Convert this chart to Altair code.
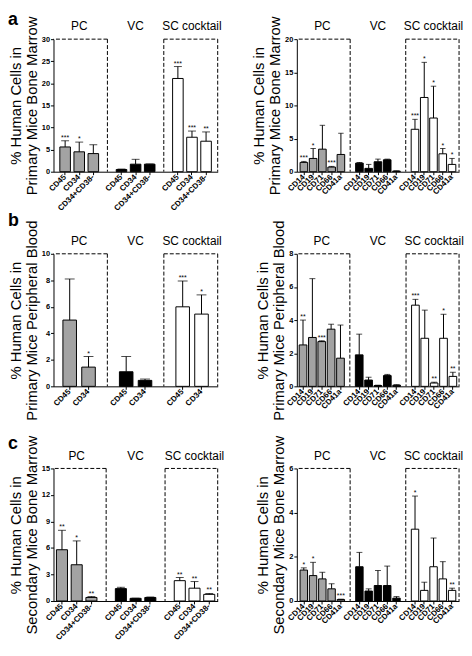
import altair as alt
import pandas as pd

GROUPS = ["PC", "VC", "SC cocktail"]
COLORS = ["#a3a3a3", "#000000", "#ffffff"]
STEM = ["CD45", "CD34", "CD34+CD38-"]
STEM_PB = ["CD45", "CD34"]
LINEAGE = ["CD14", "CD19", "CD71", "CD66", "CD41a"]

# panel a, left (primary BM, stem markers)
a_l_mean = [5.6, 4.5, 4.1, 0.5, 1.7, 1.7, 21.1, 7.8, 6.9]
a_l_err = [1.4, 2.2, 2.0, 0.1, 1.1, 0.05, 2.7, 1.4, 2.1]
a_l_sig = ["***", "*", "", "", "", "", "***", "***", "**"]
# panel a, right (primary BM, lineage markers)
a_r_mean = [1.4, 2.0, 3.4, 0.7, 2.6, 1.3, 0.5, 1.5, 1.8, 0.1, 6.4, 11.2, 8.1, 2.7, 1.1]
a_r_err = [0.15, 1.5, 3.6, 0.1, 3.2, 0.1, 0.6, 0.4, 0.1, 0.02, 1.5, 5.3, 4.8, 0.8, 0.9]
a_r_sig = ["***", "*", "", "***", "", "", "", "", "", "", "***", "*", "*", "*", "*"]
# panel b, left (primary PB, stem markers)
b_l_mean = [5.0, 1.45, 1.1, 0.45, 6.0, 5.45]
b_l_err = [3.1, 0.8, 1.15, 0.1, 1.95, 1.45]
b_l_sig = ["", "*", "", "", "***", "*"]
# panel b, right (primary PB, lineage markers)
b_r_mean = [2.5, 2.95, 2.7, 3.45, 1.7, 1.9, 0.38, 0.05, 0.65, 0.07, 4.9, 2.9, 0.2, 2.9, 0.6]
b_r_err = [1.5, 3.55, 0.05, 0.3, 2.0, 1.25, 0.17, 0.02, 0.07, 0.03, 0.35, 1.7, 0.05, 1.45, 0.25]
b_r_sig = ["**", "", "***", "", "", "", "", "", "", "", "***", "", "**", "*", "**"]
# panel c, left (secondary BM, stem markers)
c_l_mean = [5.8, 4.1, 0.4, 1.4, 0.3, 0.4, 2.3, 1.45, 0.75]
c_l_err = [2.2, 2.7, 0.1, 0.15, 0.02, 0.05, 0.35, 0.75, 0.1]
c_l_sig = ["**", "*", "**", "", "", "", "**", "**", "**"]
# panel c, right (secondary BM, lineage markers)
c_r_mean = [1.4, 1.15, 1.0, 0.55, 0.07, 1.55, 0.45, 0.7, 0.7, 0.13, 3.25, 0.48, 1.55, 1.0, 0.48]
c_r_err = [0.1, 0.6, 0.3, 0.23, 0.01, 0.65, 0.1, 0.68, 0.88, 0.07, 1.5, 0.37, 1.3, 0.78, 0.1]
c_r_sig = ["*", "*", "", "", "***", "", "", "", "", "", "*", "", "", "", "**"]

TITLE_A = ["% Human Cells in", "Primary Mice Bone Marrow"]
TITLE_B = ["% Human Cells in", "Primary Mice Peripheral Blood"]
TITLE_C = ["% Human Cells in", "Secondary Mice Bone Marrow"]

LABEL_FONT = "Liberation Sans, Arial, sans-serif"
DASH = [4, 2]


def panel(markers, means, errs, sigs, ymax, ystep, W, H, title, pi, po, cap,
          letter=None, letter_y=-14):
    rows = []
    domain = []
    i = 0
    for gi, g in enumerate(GROUPS):
        if gi > 0:
            domain.append(f"gap{gi}")
        for m in markers:
            key = f"{g}|{m}"
            domain.append(key)
            rows.append(dict(group=g, marker=m, key=key, mean=means[i],
                             hi=means[i] + errs[i], sig=sigs[i]))
            i += 1
    df = pd.DataFrame(rows)
    bar_keys = [k for k in domain if "|" in k]
    step = W / (len(domain) - pi + 2 * po)

    xscale = alt.Scale(domain=domain, paddingInner=pi, paddingOuter=po)
    xaxis = alt.Axis(values=bar_keys, labelExpr="split(datum.value, '|')[1]",
                     labelAngle=315, labelAlign="right", labelBaseline="middle",
                     labelFont=LABEL_FONT, labelFontSize=8, labelFontWeight="bold",
                     labelColor="black", labelPadding=1, labelOverlap=False,
                     tickSize=3, tickColor="black", domainColor="black", domainWidth=1,
                     title=None, grid=False)
    X = alt.X("key:N", scale=xscale, axis=xaxis)
    yscale = alt.Scale(domain=[0, ymax], nice=False)
    yaxis = alt.Axis(values=list(range(0, ymax + 1, ystep)), title=title, grid=False,
                     domainColor="black", domainWidth=1, tickColor="black", tickSize=3,
                     labelColor="black", labelFont=LABEL_FONT, labelFontSize=7.5,
                     labelFontWeight="bold", labelPadding=1,
                     titleFont=LABEL_FONT, titleFontSize=15, titleFontWeight="normal",
                     titleColor="black", titlePadding=2, titleLineHeight=16)
    Ymean = alt.Y("mean:Q", scale=yscale, axis=yaxis)
    Yhi = alt.Y("hi:Q", scale=yscale, axis=yaxis)

    base = alt.Chart(df)
    bars = base.mark_bar(stroke="black", strokeWidth=1).encode(
        x=X, y=Ymean,
        fill=alt.Fill("group:N", scale=alt.Scale(domain=GROUPS, range=COLORS), legend=None))
    err = base.mark_rule(color="black", strokeWidth=1).encode(x=X, y=Ymean, y2="hi:Q")
    caps = base.mark_tick(color="black", thickness=1, size=cap).encode(x=X, y=Yhi)
    stars = base.mark_text(fontSize=7, baseline="alphabetic", dy=-1, color="black",
                           font=LABEL_FONT).encode(x=X, y=Yhi, text="sig:N")

    # group headers centred over each group's bars
    n = len(markers)
    if n % 2 == 1:
        centre_idx, bpos, off = n // 2, 0.5, 0.0
    else:
        centre_idx, bpos, off = n // 2 - 1, 1.0, step * pi / 2
    gdf = pd.DataFrame({"group": GROUPS, "key": [f"{g}|{markers[centre_idx]}" for g in GROUPS]})
    grp = alt.Chart(gdf).mark_text(fontSize=12, font=LABEL_FONT, baseline="alphabetic",
                                   color="black", xOffset=off).encode(
        x=alt.X("key:N", scale=xscale, axis=xaxis, bandPosition=bpos),
        y=alt.value(-9), text="group:N")

    # dashed boxes around PC and SC cocktail, split at the gap slots
    sepdf = pd.DataFrame({"key": ["gap1", "gap2"]})
    rule_kw = dict(strokeDash=DASH, color="black", strokeWidth=1)
    vlines = alt.Chart(sepdf).mark_rule(**rule_kw).encode(x=X, y=alt.value(0), y2=alt.value(H))
    top_pc = alt.Chart(sepdf).transform_filter("datum.key == 'gap1'").mark_rule(**rule_kw).encode(
        x=X, x2=alt.value(0), y=alt.value(0))
    top_sc = alt.Chart(sepdf).transform_filter("datum.key == 'gap2'").mark_rule(**rule_kw).encode(
        x=X, x2=alt.value(W), y=alt.value(0))
    right = alt.Chart(sepdf).transform_filter("datum.key == 'gap2'").mark_rule(**rule_kw).encode(
        x=alt.value(W), y=alt.value(0), y2=alt.value(H))

    layers = [vlines, top_pc, top_sc, right, bars, err, caps, stars, grp]
    if letter:
        ldf = pd.DataFrame({"t": [letter]})
        layers.append(alt.Chart(ldf).mark_text(fontSize=18, fontWeight="bold", align="left",
                                               baseline="alphabetic", font=LABEL_FONT,
                                               color="black").encode(
            x=alt.value(-46), y=alt.value(letter_y), text="t:N"))
    return alt.layer(*layers).properties(width=W, height=H)


H = 134
a_l = panel(STEM, a_l_mean, a_l_err, a_l_sig, 30, 5, 166, H, TITLE_A, 0.25, 0.45, 8, "a", -14)
a_r = panel(LINEAGE, a_r_mean, a_r_err, a_r_sig, 20, 5, 164, H, TITLE_A, 0.18, 0.35, 5.5)
b_l = panel(STEM_PB, b_l_mean, b_l_err, b_l_sig, 10, 2, 166, H, TITLE_B, 0.28, 0.5, 10, "b", -28)
b_r = panel(LINEAGE, b_r_mean, b_r_err, b_r_sig, 8, 2, 164, H, TITLE_B, 0.18, 0.25, 6)
c_l = panel(STEM, c_l_mean, c_l_err, c_l_sig, 15, 3, 166, H, TITLE_C, 0.25, 0.2, 8, "c", -20)
c_r = panel(LINEAGE, c_r_mean, c_r_err, c_r_sig, 6, 2, 164, H, TITLE_C, 0.2, 0.35, 6)

chart = alt.concat(a_l, a_r, b_l, b_r, c_l, c_r, columns=2,
                   spacing={"row": 83, "column": 80}, bounds="flush",
                   padding=0).configure_view(strokeWidth=0)

chart.save("out.html", embed_options={"renderer": "svg", "actions": False})
